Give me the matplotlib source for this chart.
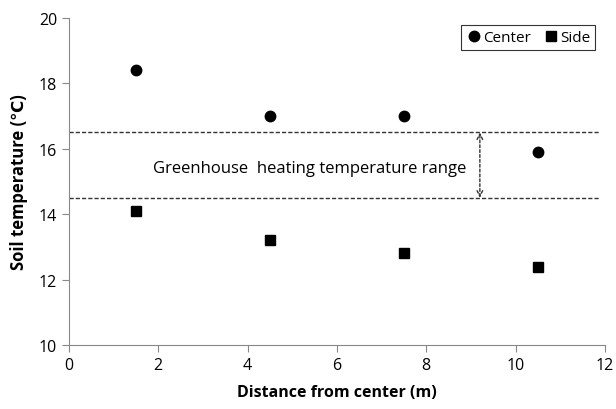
import matplotlib
matplotlib.use('Agg')
from matplotlib import pyplot as plt

plt.rcParams['font.family'] = ['Open Sans', 'DejaVu Sans']

distance = [1.5, 4.5, 7.5, 10.5]
center_temp = [18.4, 17.0, 17.0, 15.9]
side_temp = [14.1, 13.2, 12.8, 12.4]
range_low = 14.5
range_high = 16.5

fig = plt.figure(figsize=(6.16, 4.10), dpi=100)
ax = fig.add_axes([0.112, 0.156, 0.870, 0.798])

ax.plot(distance, center_temp, 'o', color='black', markersize=7.5, label='Center', clip_on=False)
ax.plot(distance, side_temp, 's', color='black', markersize=7, label='Side', clip_on=False)

ax.plot([0, 11.9], [range_high, range_high], color='#333333', linestyle=(0, (3, 1.5)), linewidth=1)
ax.plot([0, 11.9], [range_low, range_low], color='#333333', linestyle=(0, (3, 1.5)), linewidth=1)
ax.annotate('', xy=(9.2, range_high), xytext=(9.2, range_low),
            arrowprops=dict(arrowstyle='<->', linestyle=(0, (2, 1.5)), color='#333333', lw=1,
                            shrinkA=0, shrinkB=0))
ax.text(5.4, 15.42, 'Greenhouse  heating temperature range', ha='center', va='center', fontsize=12)

ax.set_xlim(0, 12)
ax.set_ylim(10, 20)
ax.set_xticks(range(0, 13, 2))
ax.set_yticks(range(10, 21, 2))
for s in ['top', 'right']:
    ax.spines[s].set_visible(False)
for s in ['left', 'bottom']:
    ax.spines[s].set_color('#888888')
ax.tick_params(direction='out', length=5, color='#888888', labelsize=11.5)
ax.set_xlabel('Distance from center (m)', fontsize=11.5, fontweight='bold', labelpad=8)
ax.set_ylabel('Soil temperature (\u2103)', fontsize=12, fontweight='bold', labelpad=8)

leg = ax.legend(loc='upper right', ncol=2, frameon=True, fancybox=False, fontsize=11,
                handletextpad=0.05, columnspacing=0.7, handlelength=1.1,
                borderpad=0.3, bbox_to_anchor=(0.995, 1.0))
leg.get_frame().set_edgecolor('black')
leg.get_frame().set_linewidth(0.8)

plt.savefig('out.png')
